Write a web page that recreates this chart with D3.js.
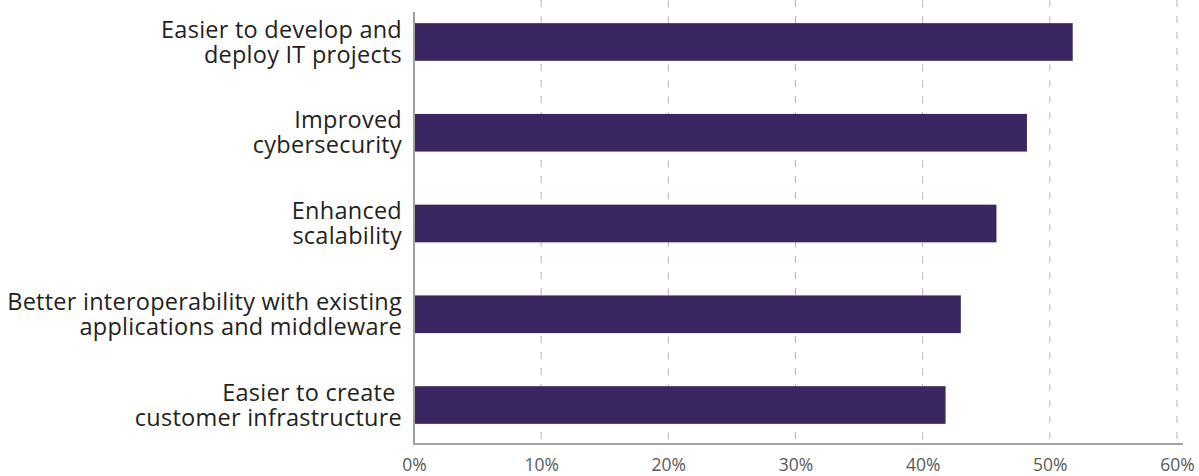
<!DOCTYPE html>
<html>
<head>
<meta charset="utf-8">
<script src="https://cdn.jsdelivr.net/npm/d3@7"></script>
<style>
  html, body { margin: 0; padding: 0; background: #fff; }
  svg text { white-space: pre; }
</style>
</head>
<body>
<svg id="chart" width="1199" height="476"></svg>
<script>
// Data
const categories = [
  ["Easier to develop and", "deploy IT projects"],
  ["Improved", "cybersecurity"],
  ["Enhanced", "scalability"],
  ["Better interoperability with existing", "applications and middleware"],
  ["Easier to create ", "customer infrastructure"]
];
const values = [51.8, 48.2, 45.8, 43.0, 41.8];
const tickValues = [0, 10, 20, 30, 40, 50, 60];
const tickLabels = ["0%", "10%", "20%", "30%", "40%", "50%", "60%"];

(function () {
const svg = d3.select("#chart");
const pLeft = 414, pRight = 1177, pTop = 3, pBottom = 444;
const FONT = "'Open Sans', 'Noto Sans', sans-serif";

const x = d3.scaleLinear().domain([0, 60]).range([pLeft, pRight]);
const y = d3.scaleBand().domain(d3.range(categories.length)).range([pTop, pBottom])
  .paddingInner(0.585).paddingOuter(0.222);

// gridlines
svg.append("g").selectAll("line").data(tickValues.slice(1)).join("line")
  .attr("x1", d => x(d)).attr("x2", d => x(d))
  .attr("y1", 0).attr("y2", pBottom)
  .attr("stroke", "#b5b5b5").attr("stroke-width", 1)
  .attr("stroke-dasharray", "7,9");

// bars
svg.append("g").selectAll("rect").data(values).join("rect")
  .attr("x", x(0)).attr("y", (d, i) => y(i))
  .attr("width", d => x(d) - x(0)).attr("height", y.bandwidth())
  .attr("fill", "#3a2661");

// axes lines
svg.append("line").attr("x1", pLeft).attr("x2", pLeft).attr("y1", 12).attr("y2", pBottom)
  .attr("stroke", "#a0a0a0").attr("stroke-width", 2);
svg.append("line").attr("x1", pLeft - 1).attr("x2", pRight + 6).attr("y1", pBottom).attr("y2", pBottom)
  .attr("stroke", "#a0a0a0").attr("stroke-width", 2);

// x tick labels
const xAxis = d3.axisBottom(x).tickValues(tickValues).tickFormat((d, i) => tickLabels[i]).tickSize(0).tickPadding(0);
const gx = svg.append("g").attr("transform", `translate(0,471)`).call(xAxis);
gx.select(".domain").remove();
gx.selectAll("text").attr("font-family", FONT).attr("font-size", 17.5)
  .attr("fill", "#5a5a5a").attr("dy", "0");

// category labels
const lg = svg.append("g");
categories.forEach((lines, i) => {
  const cy = y(i) + y.bandwidth() / 2;
  const t = lg.append("text").attr("text-anchor", "end")
    .attr("font-family", FONT).attr("font-size", 23.5)
    .attr("letter-spacing", "0.25px")
    .attr("fill", "#231f20");
  lines.forEach((ln, k) => {
    t.append("tspan").attr("x", 402).attr("y", cy - 4.3 + k * 25).text(ln);
  });
});
})();
</script>
</body>
</html>
